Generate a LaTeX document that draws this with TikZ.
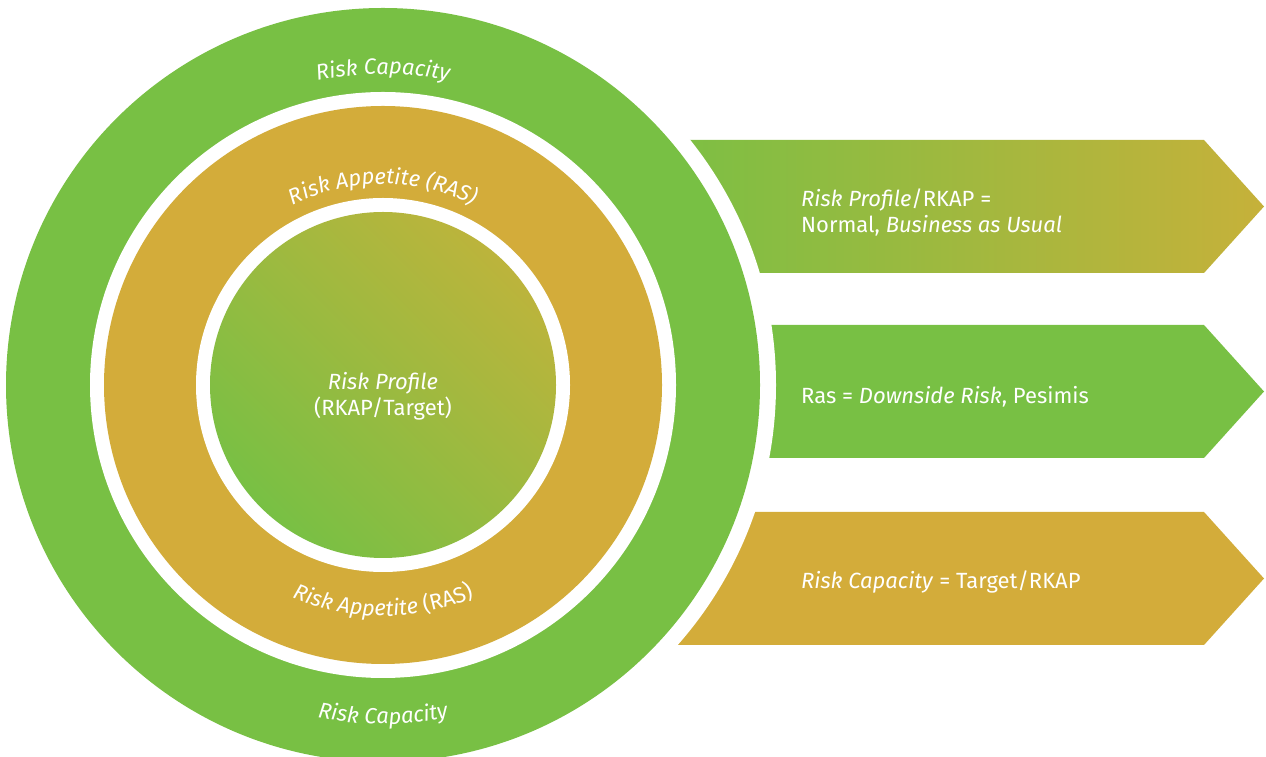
\documentclass[tikz,border=0pt]{standalone}
\usepackage{fontspec}
\setmainfont{Fira Sans}
\usetikzlibrary{positioning,calc,decorations.text}
\definecolor{riskgreen}{HTML}{78C044}
\definecolor{riskgold}{HTML}{D3AC3A}
\definecolor{riskolive}{HTML}{BCB43C}
\definecolor{riskend}{HTML}{C6B13A}

\begin{document}
\begin{tikzpicture}[x=1pt,y=1pt,
  every node/.style={text=white,inner sep=0pt,align=left,font=\fontsize{22}{26}\selectfont},
  ringtext/.style={decorate,decoration={text along path,text align=center,text={#1}}}]
\useasboundingbox (0,0) rectangle (1266,757);
\coordinate (c) at (383,372);
\shade[left color=riskgreen,right color=riskend] (640,617) -- (1204,617) -- (1264,550.5) -- (1204,484) -- (640,484) -- cycle;
\fill[riskgreen] (640,432) -- (1204,432) -- (1264,365.5) -- (1204,299) -- (640,299) -- cycle;
\fill[riskgold] (640,245) -- (1204,245) -- (1264,178.5) -- (1204,112) -- (640,112) -- cycle;
\fill[white] (c) circle (393);
\fill[riskgreen] (c) circle (377);
\fill[white] (c) circle (293);
\fill[riskgold] (c) circle (279);
\fill[white] (c) circle (187);
\shade[left color=riskgreen,right color=riskolive,shading angle=135] (c) circle (173);
\path[ringtext={|\fontsize{22}{26}\selectfont\itshape\color{white}|Risk Capacity}] ($(c)+(120:311)$) arc[start angle=120,end angle=60,radius=311];
\path[ringtext={|\fontsize{22}{26}\selectfont\itshape\color{white}|Risk Appetite (RAS)}] ($(c)+(125:201)$) arc[start angle=125,end angle=55,radius=201];
\path[ringtext={|\fontsize{22}{26}\selectfont\itshape\color{white}|Risk Appetite |\fontsize{22}{26}\selectfont\upshape\color{white}|(RAS)}] ($(c)+(235:231)$) arc[start angle=235,end angle=305,radius=231];
\path[ringtext={|\fontsize{22}{26}\selectfont\itshape\color{white}|Risk Capacity}] ($(c)+(240:339)$) arc[start angle=240,end angle=300,radius=339];
\node[align=center] (profile) at (383,361) {\textit{Risk Profile}\\(RKAP/Target)};
\node[anchor=west] (normal) at (801,545) {\textit{Risk Profile}/RKAP =\\Normal, \textit{Business as Usual}};
\node[anchor=west] (ras) at (801,360) {Ras = \textit{Downside Risk}, Pesimis};
\node[anchor=west] (capacity) at (801,175) {\textit{Risk Capacity} = Target/RKAP};
\end{tikzpicture}
\end{document}
